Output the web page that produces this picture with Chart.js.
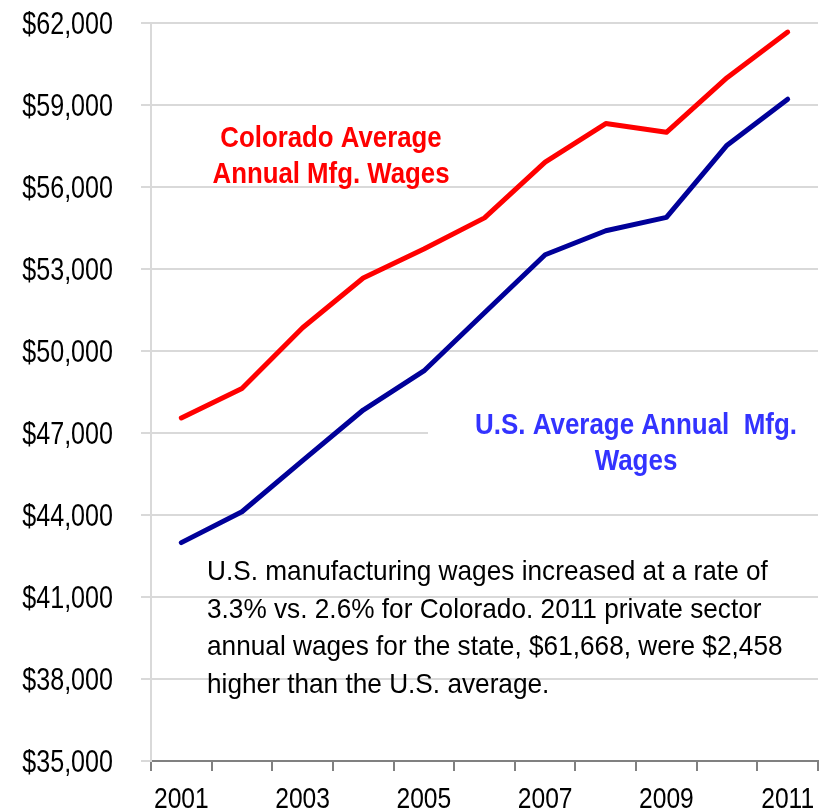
<!DOCTYPE html>
<html>
<head>
<meta charset="utf-8">
<script src="https://cdn.jsdelivr.net/npm/chart.js@4"></script>
<style>
  html, body { margin: 0; padding: 0; background: #fff; }
  #wrap { width: 819px; height: 812px; position: relative; }
</style>
</head>
<body>
<div id="wrap"><canvas id="wageChart"></canvas></div>
<script>
const years = ['2001', '2002', '2003', '2004', '2005', '2006', '2007', '2008', '2009', '2010', '2011'];
const coloradoWages = [47550, 48630, 50850, 52670, 53730, 54870, 56910, 58320, 58000, 60000, 61668];
const usWages = [42990, 44120, 45990, 47840, 49270, 51400, 53520, 54400, 54890, 57530, 59210];
const yTicks = [35000, 38000, 41000, 44000, 47000, 50000, 53000, 56000, 59000, 62000];

const coloradoLabel = ['Colorado Average', 'Annual Mfg. Wages'];
const usLabel = ['U.S. Average Annual  Mfg.', 'Wages'];
const noteLines = [
    'U.S. manufacturing wages increased at a rate of',
    '3.3% vs. 2.6% for Colorado. 2011 private sector',
    'annual wages for the state, $61,668, were $2,458',
    'higher than the U.S. average.'
];

const FONT = "'Liberation Sans', Arial, sans-serif";

// the original uses a narrow face; squeeze Liberation Sans horizontally
const drawText = (ctx, text, x, y, font, color, align, hscale) => {
    ctx.save();
    ctx.font = font;
    ctx.fillStyle = color;
    ctx.textAlign = align;
    ctx.textBaseline = 'alphabetic';
    ctx.translate(x, y);
    ctx.scale(hscale, 1);
    ctx.fillText(text, 0, 0);
    ctx.restore();
};

const labelsPlugin = {
    id: 'wageLabels',
    beforeDatasetsDraw(chart) {
        const ctx = chart.ctx;
        ctx.save();
        ctx.fillStyle = '#ffffff';
        ctx.fillRect(428, 405, 391, 78); // box behind the US label hides the gridline
        ctx.restore();
    },
    afterDraw(chart) {
        const ctx = chart.ctx;
        const xs = chart.scales.x;
        const ys = chart.scales.y;

        // axis labels
        ys.ticks.forEach(t => {
            const y = ys.getPixelForValue(t.value);
            drawText(ctx, '$' + t.value.toLocaleString('en-US'), 113, y + 11,
                '31px ' + FONT, '#000', 'right', 0.81);
        });
        years.forEach((yr, i) => {
            if (i % 2 !== 0) return;
            drawText(ctx, yr, xs.getPixelForValue(i), 808, '30px ' + FONT, '#000', 'center', 0.82);
        });

        // series labels
        drawText(ctx, coloradoLabel[0], 331, 147, 'bold 30px ' + FONT, '#ff0000', 'center', 0.86);
        drawText(ctx, coloradoLabel[1], 331, 183, 'bold 30px ' + FONT, '#ff0000', 'center', 0.86);
        drawText(ctx, usLabel[0], 636, 434, 'bold 30px ' + FONT, '#3333ff', 'center', 0.865);
        drawText(ctx, usLabel[1], 636, 470, 'bold 30px ' + FONT, '#3333ff', 'center', 0.865);

        // note
        noteLines.forEach((line, i) => {
            drawText(ctx, line, 207, 580 + i * 37.5, '28px ' + FONT, '#000', 'left', 0.936);
        });
    }
};

const ctx = document.getElementById('wageChart').getContext('2d');
new Chart(ctx, {
    type: 'line',
    data: {
        labels: years,
        datasets: [
            {
                label: 'Colorado',
                data: coloradoWages,
                borderColor: '#ff0000',
                borderWidth: 5,
                pointRadius: 0,
                fill: false,
                tension: 0,
                borderCapStyle: 'round',
                borderJoinStyle: 'round'
            },
            {
                label: 'U.S.',
                data: usWages,
                borderColor: '#000099',
                borderWidth: 5,
                pointRadius: 0,
                fill: false,
                tension: 0,
                borderCapStyle: 'round',
                borderJoinStyle: 'round'
            }
        ]
    },
    options: {
        animation: false,
        responsive: true,
        maintainAspectRatio: false,
        layout: {
            padding: {left: 0, right: 1, top: 23, bottom: 0}
        },
        scales: {
            x: {
                offset: true,
                grid: {
                    offset: true,
                    drawOnChartArea: false,
                    drawTicks: true,
                    tickLength: 10,
                    color: '#808080',
                    lineWidth: 2
                },
                border: {color: '#808080', width: 2},
                ticks: {display: false, autoSkip: false},
                afterFit: s => { s.height = 51; }
            },
            y: {
                min: 35000,
                max: 62000,
                afterBuildTicks: s => { s.ticks = yTicks.map(v => ({value: v})); },
                grid: {
                    color: '#d9d9d9',
                    lineWidth: 2,
                    tickLength: 10
                },
                border: {color: '#d9d9d9', width: 2},
                ticks: {display: false},
                afterFit: s => { s.width = 151; }
            }
        },
        plugins: {
            legend: {display: false},
            tooltip: {enabled: false}
        }
    },
    plugins: [labelsPlugin]
});
</script>
</body>
</html>
